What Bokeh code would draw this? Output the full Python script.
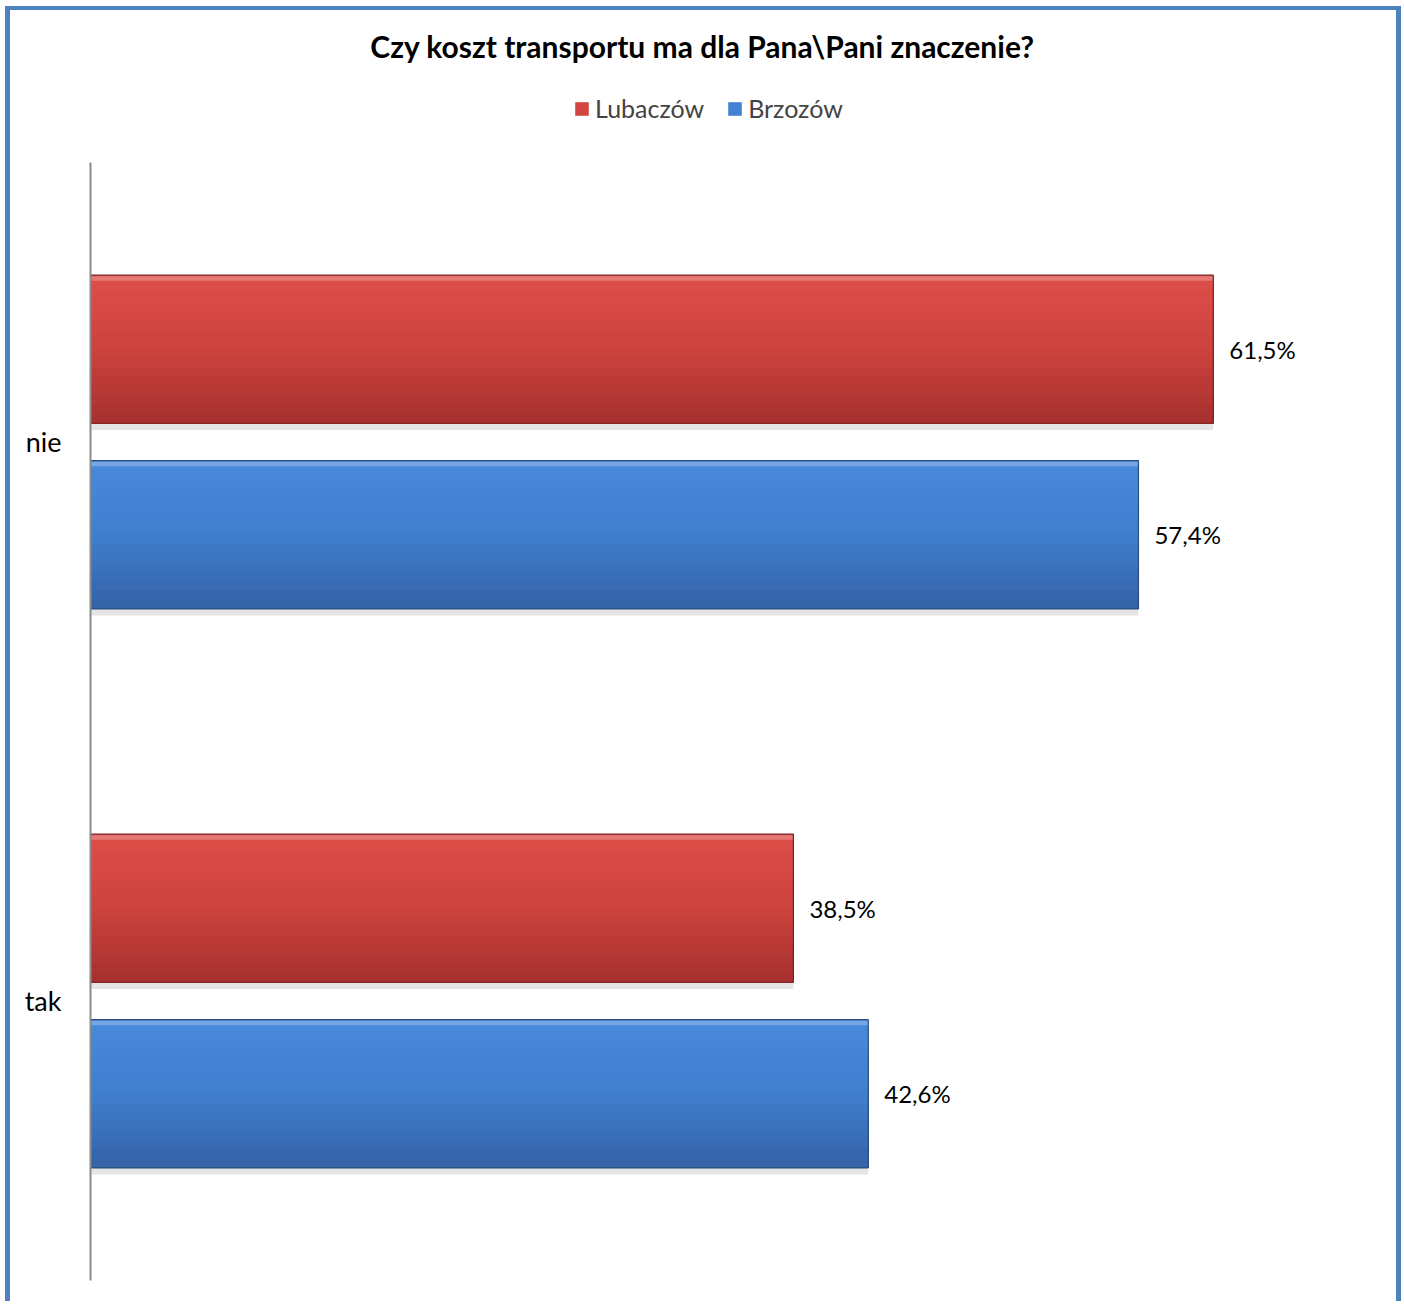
from bokeh.plotting import figure
from bokeh.models import (ColumnDataSource, Range1d, LabelSet, Label, FixedTicker,
                          Legend, LegendItem)
from bokeh.core.properties import value
from bokeh.transform import dodge
from bokeh.embed import file_html
from bokeh.resources import INLINE

# ---- data ----
categories = ["nie", "tak"]
lubaczow = [61.5, 38.5]
brzozow = [57.4, 42.6]
series_names = ["Lubaczów", "Brzozów"]
title_text = "Czy koszt transportu ma dla Pana\\Pani znaczenie?"

FONT = "Lato"

def fmt(v):
    return f"{v:.1f}".replace(".", ",") + "%"

ncat = len(categories)
ypos = [ncat - 0.5 - i for i in range(ncat)]          # category centres on a numeric axis
TOP_ROOM = 0.2719                                        # space above the bars for title/legend

p = figure(width=1396, height=1295, output_backend="svg", toolbar_location=None,
           x_range=Range1d(0, 70), y_range=Range1d(0, ncat + TOP_ROOM),
           min_border_left=80, min_border_right=38, min_border_top=0,
           min_border_bottom=25, tools="",
           styles={"border-top": "4px solid #4F81BD", "border-left": "5px solid #4F81BD",
                   "border-right": "5px solid #4F81BD", "margin-left": "5px",
                   "margin-top": "6px"})
p.title.visible = False
p.outline_line_color = None
p.xgrid.visible = False
p.ygrid.visible = False
p.xaxis.visible = False
p.yaxis.bounds = (0, ncat)
p.yaxis.ticker = FixedTicker(ticks=ypos)
p.yaxis.major_label_overrides = {y: c for y, c in zip(ypos, categories)}
p.yaxis.minor_tick_line_color = None
p.yaxis.axis_line_color = "#8C8C8C"
p.yaxis.axis_line_width = 2
p.yaxis.major_tick_line_color = None
p.yaxis.major_label_text_font = FONT
p.yaxis.major_label_text_font_size = "27px"
p.yaxis.major_label_text_color = "#000000"
p.yaxis.major_label_standoff = 23

H = 0.265  # bar thickness in category units
OFF = 0.166
N = 16

def lerp(c1, c2, t):
    return "#%02x%02x%02x" % tuple(int(round(a + (b - a) * t)) for a, b in zip(c1, c2))

specs = [
    (series_names[0], lubaczow, OFF, (222, 78, 72), (204, 66, 62), (166, 48, 46), "#7A2020"),
    (series_names[1], brzozow, -OFF, (74, 138, 220), (64, 126, 206), (52, 98, 166), "#2A4C7E"),
]

legend_items = []
for name, vals, off, ctop, cmid, cbot, edge in specs:
    src = ColumnDataSource(dict(y=ypos, val=vals, txt=[fmt(v) for v in vals]))
    # shadow
    p.hbar(y=dodge("y", off - 0.012), left=0, right="val", height=H,
           source=src, fill_color="#000000", fill_alpha=0.10, line_color=None)
    mid_r = None
    bottom = off - H / 2
    for i in range(N):
        t = (i + 0.5) / N
        col = lerp(ctop, cmid, t * 2) if t < 0.5 else lerp(cmid, cbot, (t - 0.5) * 2)
        top = off + H / 2 - i * H / N
        r = p.hbar(y=dodge("y", (top + bottom) / 2), left=0, right="val",
                   height=top - bottom, source=src, fill_color=col, line_color=None)
        if i == N // 3:
            mid_r = r
    # top highlight
    p.hbar(y=dodge("y", off + H / 2 - 0.006), left=0, right="val",
           height=0.008, source=src, fill_color="#ffffff", fill_alpha=0.25, line_color=None)
    # outline
    p.hbar(y=dodge("y", off), left=0, right="val", height=H,
           source=src, fill_color=None, line_color=edge, line_width=1.2)
    labels = LabelSet(x="val", y=dodge("y", off), text="txt", source=src,
                      x_offset=16, text_baseline="middle", text_font=value(FONT),
                      text_font_size="24px", text_color="#000000")
    p.add_layout(labels)
    legend_items.append(LegendItem(label=name, renderers=[mid_r]))

legend = Legend(items=legend_items, orientation="horizontal", location=(483, 1157),
                padding=0, margin=0, spacing=22, label_standoff=5, glyph_width=17,
                glyph_height=17, label_text_font=FONT, label_text_font_size="25px",
                border_line_color=None, background_fill_alpha=0)
p.add_layout(legend, "center")

title = Label(x=612, y=1235, x_units="screen", y_units="screen", text=title_text,
              text_align="center", text_baseline="middle", text_font=FONT,
              text_font_style="bold", text_font_size="30px", text_color="#000000")
p.add_layout(title)

open("out.html", "w").write(file_html(p, INLINE))
